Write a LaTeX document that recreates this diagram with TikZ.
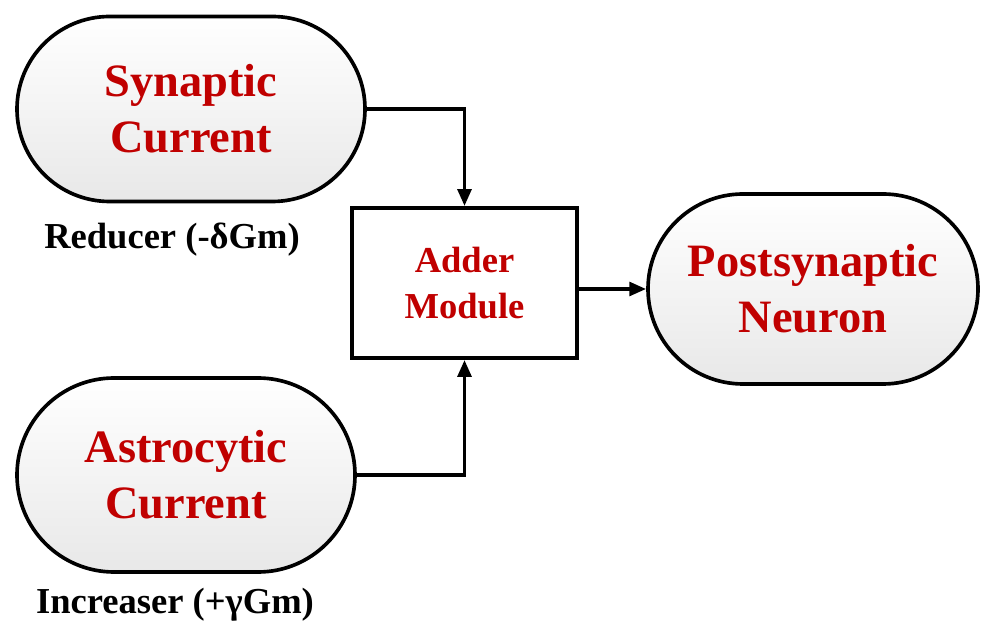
\documentclass[tikz,border=0pt]{standalone}
\usepackage{fontspec}
\setmainfont{Liberation Serif}
\usetikzlibrary{shapes.misc,arrows.meta,positioning,calc}

\definecolor{darkred}{RGB}{192,0,0}

\tikzset{
	pill/.style={rounded rectangle, draw=black, line width=2.6pt,
		top color=white, bottom color=black!9, text=darkred,
		font=\bfseries\fontsize{33}{40}\selectfont, align=center, inner sep=0pt},
	adderbox/.style={rectangle, draw=black, line width=2.8pt, fill=white,
		text=darkred, font=\bfseries\fontsize{26}{33}\selectfont, align=center},
	gainlabel/.style={text=black, font=\bfseries\fontsize{26}{30}\selectfont},
	arr/.style={line width=2.6pt, -{Triangle[length=4.2mm,width=3.4mm]}}
}

\begin{document}
\begin{tikzpicture}[every text node part/.style={align=center}]

	\useasboundingbox (0,0) rectangle (24.675,15.7);

	% blocks
	\node[pill, minimum width=8.7cm, minimum height=4.625cm] (syn) at (4.775,12.975) {Synaptic\\Current};
	\node[pill, minimum width=8.45cm, minimum height=4.85cm] (ast) at (4.65,3.825) {Astrocytic\\Current};
	\node[adderbox, minimum width=5.625cm, minimum height=3.75cm] (add) at (11.6125,8.625) {Adder\\Module};
	\node[pill, minimum width=8.25cm, minimum height=4.75cm] (post) at (20.325,8.475) {Postsynaptic\\Neuron};

	% gain labels
	\node[gainlabel] (red) at (4.3,9.7) {Reducer (-δGm)};
	\node[gainlabel] (inc) at (4.375,0.575) {Increaser (+γGm)};

	% connections
	\draw[arr] (syn.east) -| (add.north);
	\draw[arr] (ast.east) -| (add.south);
	\draw[arr] (add.east |- post.west) -- (post.west);

\end{tikzpicture}
\end{document}
